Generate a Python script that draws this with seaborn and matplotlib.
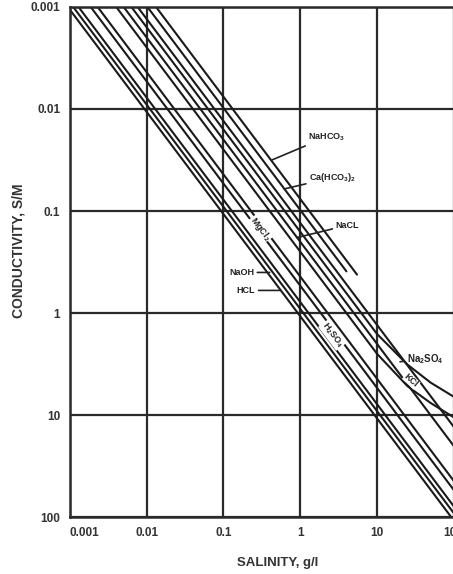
import matplotlib
matplotlib.use("Agg")
import matplotlib.pyplot as plt
import seaborn as sns
import pandas as pd

sns.set_theme(style="white")
plt.rcParams['font.family'] = ['Liberation Sans', 'DejaVu Sans']
plt.rcParams['mathtext.fontset'] = 'custom'
plt.rcParams['mathtext.rm'] = 'Liberation Sans:bold'
plt.rcParams['mathtext.it'] = 'Liberation Sans:bold'
plt.rcParams['mathtext.bf'] = 'Liberation Sans:bold'

# Salinity (g/l) and conductivity (S/m) along each electrolyte curve
hcl_sal = [0.001, 93]
hcl_cond = [0.00107, 100]
naoh_sal = [0.0011, 100]
naoh_cond = [0.001, 91]
koh_sal = [0.00129, 100]
koh_cond = [0.001, 78]
h2so4_sal = [0.00186, 100]
h2so4_cond = [0.001, 54]
mgcl2_sal = [0.00229, 100]
mgcl2_cond = [0.001, 44]
kcl_sal = [0.004, 10, 25, 50, 100]
kcl_cond = [0.001, 2.5, 5.2, 7.6, 10.5]
nacl_sal = [0.005, 100]
nacl_cond = [0.001, 20]
na2so4_sal = [0.0063, 10, 25, 50, 100]
na2so4_cond = [0.001, 1.6, 3.2, 4.8, 6.6]
mgso4_sal = [0.0076, 100]
mgso4_cond = [0.001, 13]
cahco3_sal = [0.0102, 4.0]
cahco3_cond = [0.001, 0.39]
nahco3_sal = [0.0132, 5.5]
nahco3_cond = [0.001, 0.42]

series = {
    "HCl": (hcl_sal, hcl_cond),
    "NaOH": (naoh_sal, naoh_cond),
    "KOH": (koh_sal, koh_cond),
    "H2SO4": (h2so4_sal, h2so4_cond),
    "MgCl2": (mgcl2_sal, mgcl2_cond),
    "KCl": (kcl_sal, kcl_cond),
    "NaCl": (nacl_sal, nacl_cond),
    "Na2SO4": (na2so4_sal, na2so4_cond),
    "MgSO4": (mgso4_sal, mgso4_cond),
    "Ca(HCO3)2": (cahco3_sal, cahco3_cond),
    "NaHCO3": (nahco3_sal, nahco3_cond),
}

rows = []
for name, (sal, cond) in series.items():
    for s, c in zip(sal, cond):
        rows.append({"electrolyte": name, "salinity": s, "conductivity": c})
df = pd.DataFrame(rows)

fig = plt.figure(figsize=(4.53, 5.74), dpi=100)
ax = fig.add_axes([0.1545, 0.099, 0.847, 0.889])

sns.lineplot(data=df, x="salinity", y="conductivity", units="electrolyte",
             estimator=None, sort=False, color="#1a1a1a", lw=1.5, ax=ax)

ax.set_xscale("log")
ax.set_yscale("log")
ax.set_xlim(0.001, 100)
ax.set_ylim(100, 0.001)

ticks = [0.001, 0.01, 0.1, 1, 10, 100]
tick_text = ["0.001", "0.01", "0.1", "1", "10", "100"]
ax.set_xticks(ticks)
ax.set_xticklabels(tick_text)
ax.set_yticks(ticks)
ax.set_yticklabels(tick_text)
ax.minorticks_off()
ax.tick_params(length=0, labelsize=8.5, pad=7, colors="#333333")
for lab in ax.get_xticklabels() + ax.get_yticklabels():
    lab.set_fontweight("bold")
ax.get_xticklabels()[0].set_horizontalalignment("left")

ax.grid(True, which="major", color="#2a2a2a", lw=1.6)
for sp in ax.spines.values():
    sp.set_color("#2a2a2a")
    sp.set_linewidth(1.8)
ax.set_xlabel("")
ax.set_ylabel("")

fig.text(0.04, 0.564, "CONDUCTIVITY, S/M", rotation=90, ha="center",
         va="center", fontsize=10, fontweight="bold", color="#333333")
fig.text(0.613, 0.019, "SALINITY, g/l", ha="center", va="center",
         fontsize=9.5, fontweight="bold", color="#333333")

lbl = dict(fontsize=6.5, fontweight="bold", color="#222222")
lead = dict(arrowstyle="-", color="#222222", lw=1.2, shrinkA=0, shrinkB=0)

ax.annotate("NaHCO$_3$", xy=(0.42, 0.42 / 13.2), xytext=(1.27, 0.0188),
            ha="left", va="center", arrowprops=lead, **lbl)
ax.annotate("Ca(HCO$_3$)$_2$", xy=(0.62, 0.62 / 10.2), xytext=(1.31, 0.047),
            ha="left", va="center", arrowprops=lead, **lbl)
ax.annotate("NaCL", xy=(0.91, 0.91 / 5.0), xytext=(2.9, 0.138),
            ha="left", va="center", arrowprops=lead, **lbl)
ax.annotate("NaOH", xy=(0.40, 0.40), xytext=(0.25, 0.40),
            ha="right", va="center", arrowprops=lead, **lbl)
ax.annotate("HCL", xy=(0.56, 0.60), xytext=(0.26, 0.60),
            ha="right", va="center", arrowprops=lead, **lbl)
ax.annotate("Na$_2$SO$_4$", xy=(20, 3.0), xytext=(25, 2.8),
            ha="left", va="center", arrowprops=lead, fontsize=7,
            fontweight="bold", color="#222222")

ax.text(0.3, 0.3 / 2.0, "MgCl$_2$", rotation=-53, ha="center", va="center",
        bbox=dict(boxstyle="square,pad=0.05", fc="white", ec="none"), **lbl)
ax.text(2.6, 2.6 / 1.58, "H$_2$SO$_4$", rotation=-53, ha="center", va="center",
        bbox=dict(boxstyle="square,pad=0.05", fc="white", ec="none"), **lbl)
ax.text(28, 4.6, "KCl", rotation=-42, ha="center", va="center",
        bbox=dict(boxstyle="square,pad=0.05", fc="white", ec="none"), **lbl)

fig.savefig("out.png", dpi=100, facecolor="white")
